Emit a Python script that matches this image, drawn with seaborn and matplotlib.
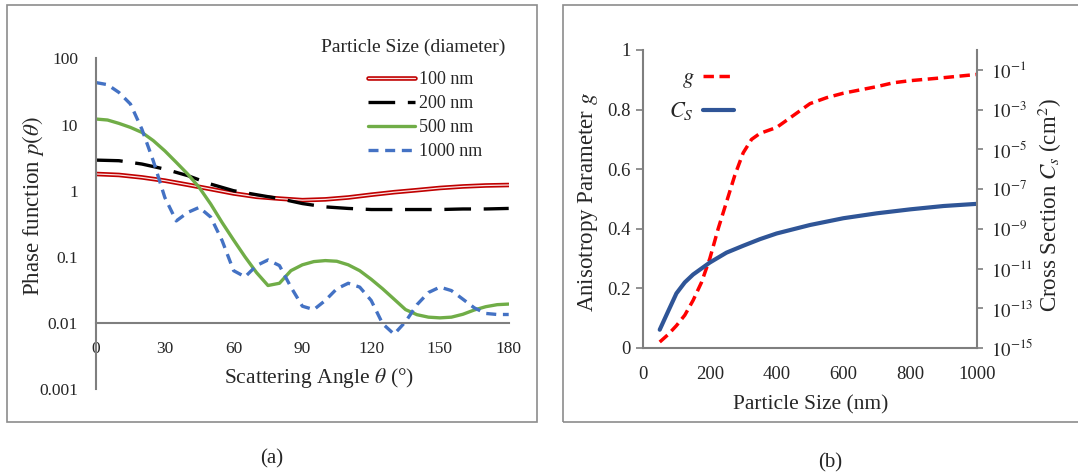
import matplotlib
matplotlib.use("Agg")
import matplotlib.pyplot as plt
import matplotlib.patheffects as pe
from matplotlib.patches import Rectangle
import seaborn as sns

# ---- panel (a): phase function vs scattering angle ----
angles_10 = [0, 10, 20, 30, 40, 50, 60, 70, 80, 90, 100, 110, 120, 130, 140, 150, 160, 170, 180]
p_100nm = [1.79, 1.73, 1.59, 1.42, 1.23, 1.06, 0.91, 0.81, 0.76, 0.72, 0.74, 0.79, 0.87, 0.95,
           1.02, 1.10, 1.16, 1.20, 1.22]
p_200nm = [2.90, 2.84, 2.53, 2.12, 1.69, 1.26, 1.00, 0.87, 0.76, 0.64, 0.57, 0.54, 0.52, 0.52,
           0.52, 0.52, 0.53, 0.53, 0.54]

angles_5 = list(range(0, 181, 5))
p_500nm = [12.1, 11.7, 10.4, 9.05, 7.6, 5.7, 4.0, 2.68, 1.78, 1.12, 0.63, 0.33, 0.18, 0.10,
           0.058, 0.037, 0.040, 0.062, 0.076, 0.085, 0.088, 0.086, 0.076, 0.062, 0.046, 0.033,
           0.023, 0.016, 0.0134, 0.0123, 0.012, 0.0123, 0.0136, 0.0158, 0.0177, 0.019, 0.0194]
p_1000nm = [43, 40, 30.5, 20.4, 8.5, 2.8, 0.79, 0.35, 0.47, 0.56, 0.40, 0.176, 0.062, 0.050,
            0.074, 0.090, 0.074, 0.035, 0.018, 0.016, 0.022, 0.033, 0.040, 0.035, 0.022, 0.0098,
            0.0068, 0.0105, 0.019, 0.029, 0.035, 0.031, 0.023, 0.017, 0.014, 0.0135, 0.0135]

angle_ticks = [0, 30, 60, 90, 120, 150, 180]
p_ticks = [0.001, 0.01, 0.1, 1, 10, 100]
p_tick_labels = ["0.001", "0.01", "0.1", "1", "10", "100"]

# ---- panel (b): anisotropy g and cross section vs particle size ----
size_g = [50, 75, 100, 125, 150, 175, 200, 225, 250, 275, 300, 325, 350, 400, 450, 500, 550,
          600, 700, 750, 800, 900, 1000]
g_vals = [0.02, 0.045, 0.075, 0.11, 0.16, 0.22, 0.30, 0.40, 0.49, 0.58, 0.655, 0.70, 0.72, 0.74,
          0.78, 0.82, 0.84, 0.855, 0.877, 0.89, 0.897, 0.907, 0.918]
size_cs = [50, 75, 100, 125, 150, 200, 250, 300, 350, 400, 500, 600, 700, 800, 900, 1000]
cs_vals = [8.3e-15, 6.9e-14, 5.6e-13, 2.0e-12, 5.0e-12, 2.0e-11, 6.3e-11, 1.4e-10, 3.0e-10,
           5.8e-10, 1.55e-9, 3.4e-9, 6.0e-9, 9.5e-9, 1.4e-8, 1.8e-8]

size_ticks = [0, 200, 400, 600, 800, 1000]
g_ticks = [0, 0.2, 0.4, 0.6, 0.8, 1]
g_tick_labels = ["0", "0.2", "0.4", "0.6", "0.8", "1"]
cs_exps = [-15, -13, -11, -9, -7, -5, -3, -1]

sns.set_style("white")
plt.rcParams["font.family"] = ["Liberation Serif", "DejaVu Serif"]
plt.rcParams["mathtext.fontset"] = "stix"

GREY = "#7F7F7F"
fig = plt.figure(figsize=(10.78, 4.75), dpi=100)

# outer frames of both panels
fig.add_artist(Rectangle((0.0065, 0.1116), 0.4917, 0.878, transform=fig.transFigure,
                         fill=False, edgecolor="#8C8C8C", lw=1.2))
fig.add_artist(Rectangle((0.5223, 0.1116), 0.49, 0.878, transform=fig.transFigure,
                         fill=False, edgecolor="#8C8C8C", lw=1.2))

# ---------------- panel (a) ----------------
ax = fig.add_axes([0.0891, 0.1804, 0.3828, 0.6968])
sns.lineplot(x=angles_10, y=p_100nm, ax=ax, color="#FBE3E3", lw=0.9, label="100 nm",
             path_effects=[pe.Stroke(linewidth=3.3, foreground="#C00000"), pe.Normal()])
sns.lineplot(x=angles_10, y=p_200nm, ax=ax, color="black", lw=2.4, label="200 nm",
             linestyle=(0, (8, 3.8)))
sns.lineplot(x=angles_5, y=p_500nm, ax=ax, color="#70AD47", lw=2.4, label="500 nm")
sns.lineplot(x=angles_5, y=p_1000nm, ax=ax, color="#4472C4", lw=2.4, label="1000 nm",
             linestyle=(0, (3, 2)))

ax.set_yscale("log")
ax.set_ylim(0.001, 100)
ax.set_xlim(0, 180)
ax.set_xticks(angle_ticks)
ax.set_yticks(p_ticks)
ax.set_yticklabels(p_tick_labels)
ax.minorticks_off()
ax.spines["bottom"].set_position(("data", 0.01))
for side in ["top", "right"]:
    ax.spines[side].set_visible(False)
for side in ["left", "bottom"]:
    ax.spines[side].set_color(GREY)
    ax.spines[side].set_linewidth(1.5)
ax.tick_params(axis="y", direction="in", length=4, width=1.2, color=GREY, pad=13, labelsize=12.5)
ax.tick_params(axis="x", direction="in", length=3, width=1.2, color=GREY, pad=13, labelsize=12.5)

ax.set_ylabel(r"Phase function $p(\theta)$", fontsize=16.5, va="center")
ax.yaxis.set_label_coords(-0.153, 0.552)
ax.set_xlabel(r"Scattering Angle $\theta$ (°)", fontsize=15.5, va="center")
ax.xaxis.set_label_coords(0.540, 0.034)

ax.text(0.768, 1.034, "Particle Size (diameter)", transform=ax.transAxes, fontsize=14,
        ha="center", va="center")
ax.legend(loc="upper left", bbox_to_anchor=(0.659, 0.962), frameon=False, fontsize=13,
          handlelength=2.6, handletextpad=0.2, labelspacing=0.39, borderpad=0,
          borderaxespad=0)

fig.text(272 / 1078, 1 - 459 / 475, "(a)", fontsize=15, ha="center", va="center")

# ---------------- panel (b) ----------------
bx = fig.add_axes([0.5965, 0.2674, 0.3098, 0.6274])
bx2 = bx.twinx()
sns.lineplot(x=size_g, y=g_vals, ax=bx, color="#FF0000", lw=2.5, label="$g$",
             linestyle=(0, (3, 1.6)))
sns.lineplot(x=size_cs, y=cs_vals, ax=bx2, color="#2F5597", lw=3, label="$C_S$")

bx.set_xlim(0, 1000)
bx.set_ylim(0, 1)
bx.set_xticks(size_ticks)
bx.set_yticks(g_ticks)
bx.set_yticklabels(g_tick_labels)
bx2.set_yscale("log")
bx2.set_ylim(1e-15, 1)
bx2.set_yticks([10.0 ** e for e in cs_exps])
bx2.set_yticklabels([f"$10^{{{e}}}$" for e in cs_exps])
bx2.minorticks_off()

for a in (bx, bx2):
    a.spines["top"].set_visible(False)
    for side in ["left", "right", "bottom"]:
        a.spines[side].set_color(GREY)
        a.spines[side].set_linewidth(1.5)
bx.spines["right"].set_visible(False)
bx2.spines["left"].set_visible(False)
bx2.spines["bottom"].set_visible(False)
bx.tick_params(axis="y", direction="out", length=5, width=1.2, color=GREY, pad=4, labelsize=13.5)
bx.tick_params(axis="x", direction="out", length=5, width=1.2, color=GREY, pad=8, labelsize=13.5)
bx2.tick_params(axis="y", direction="out", length=4, width=1.2, color=GREY, pad=6, labelsize=13.5)

bx.set_ylabel("Anisotropy Parameter $g$", fontsize=16.5, va="center")
bx.yaxis.set_label_coords(-0.165, 0.49)
bx.set_xlabel("Particle Size (nm)", fontsize=15.5, va="center")
bx.xaxis.set_label_coords(0.503, -0.19)
bx2.set_ylabel("Cross Section $C_s$ (cm$^2$)", fontsize=16.5, va="center")
bx2.yaxis.set_label_coords(1.219, 0.48)

if bx.get_legend() is not None:
    bx.get_legend().remove()
handles = bx.get_lines()[:1] + bx2.get_lines()[:1]
bx2.legend(handles, ["$g$", "$C_S$"], loc="upper right", bbox_to_anchor=(0.2725, 0.94),
           frameon=False, fontsize=16, markerfirst=False, handlelength=1.4,
           handletextpad=0.4, labelspacing=0.45, borderpad=0, borderaxespad=0)

fig.text(830 / 1078, 1 - 463 / 475, "(b)", fontsize=15, ha="center", va="center")

fig.savefig("out.png", dpi=100)
